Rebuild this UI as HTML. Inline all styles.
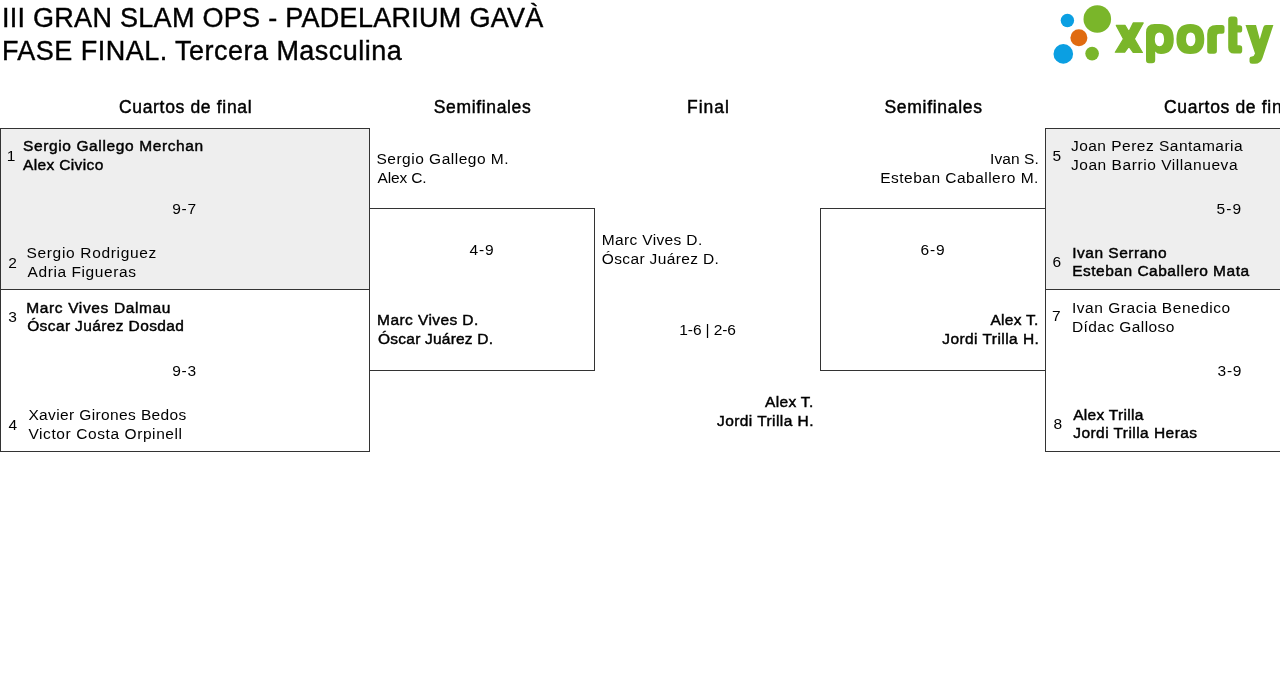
<!DOCTYPE html>
<html><head><meta charset="utf-8"><style>
html,body{margin:0;padding:0;background:#fff;width:1280px;height:697px;overflow:hidden;position:relative}
.t{position:absolute;white-space:nowrap;font-family:"Liberation Sans",sans-serif;color:#000}
#w{position:absolute;left:0;top:0;width:1280px;height:697px;will-change:transform}
</style></head><body>
<div style="position:absolute;left:0px;top:128px;width:370px;height:162px;box-sizing:border-box;background:#eeeeee;border-style:solid;border-color:#333;border-width:1px 1px 1px 1px"></div><div style="position:absolute;left:0px;top:289px;width:370px;height:163px;box-sizing:border-box;background:#fff;border-style:solid;border-color:#333;border-width:1px 1px 1px 1px"></div><div style="position:absolute;left:369px;top:208px;width:226px;height:163px;box-sizing:border-box;background:transparent;border-style:solid;border-color:#333;border-width:1px 1px 1px 1px"></div><div style="position:absolute;left:820px;top:208px;width:226px;height:163px;box-sizing:border-box;background:transparent;border-style:solid;border-color:#333;border-width:1px 1px 1px 1px"></div><div style="position:absolute;left:1045px;top:128px;width:370px;height:162px;box-sizing:border-box;background:#eeeeee;border-style:solid;border-color:#333;border-width:1px 1px 1px 1px"></div><div style="position:absolute;left:1045px;top:289px;width:370px;height:163px;box-sizing:border-box;background:#fff;border-style:solid;border-color:#333;border-width:1px 1px 1px 1px"></div>
<svg style="position:absolute;left:1040px;top:0" width="240" height="70" viewBox="0 0 240 70">
<circle cx="57.3" cy="19.0" r="13.8" fill="#7ab62a"/>
<circle cx="27.4" cy="20.5" r="6.7" fill="#0b9fe2"/>
<circle cx="38.9" cy="37.7" r="8.5" fill="#e06b10"/>
<circle cx="23.3" cy="53.9" r="9.8" fill="#0b9fe2"/>
<circle cx="52.1" cy="53.6" r="6.8" fill="#7ab62a"/>
<g fill="#7ab62a">
<!-- x -->
<path stroke="#7ab62a" stroke-width="1.2" stroke-linejoin="round" d="M76.3 25.4 H85 L88.9 31.8 L93.2 22.9 H103.2 L94.3 38.9 L102.4 52.5 H93.2 L88.9 46.3 L84.7 52.2 H75.3 L83.5 38.9 Z"/>
<!-- p -->
<path fill-rule="evenodd" d="M106 32.5 Q106 24 114.5 24 H119.5 Q133.8 24 133.8 39 Q133.8 54 121 54 Q117 54 115.2 51.5 V60 Q115.2 63.2 112 63.2 H109 Q106 63.2 106 60 Z M114.8 39.35 Q114.8 46.2 119.45 46.2 Q124.1 46.2 124.1 39.35 Q124.1 32.5 119.45 32.5 Q114.8 32.5 114.8 39.35 Z"/>
<!-- o -->
<path fill-rule="evenodd" d="M136.4 39 Q136.4 24 150.3 24 Q164.3 24 164.3 39 Q164.3 54.1 150.3 54.1 Q136.4 54.1 136.4 39 Z M146 39.35 Q146 46.2 150.7 46.2 Q155.4 46.2 155.4 39.35 Q155.4 32.5 150.7 32.5 Q146 32.5 146 39.35 Z"/>
<!-- r -->
<path d="M167.2 34 Q167.2 24.9 176.5 24.9 H182 Q184.5 24.9 184.5 27.4 V31.2 Q184.5 33.7 182 33.7 H179 Q176.9 33.7 176.9 36 V51 Q176.9 53.8 174 53.8 H170 Q167.2 53.8 167.2 51 Z"/>
<!-- t -->
<path d="M188.2 19.5 Q188.2 16.4 191.3 16.4 H194.4 Q197.5 16.4 197.5 19.5 V25.3 H199.5 Q202.2 25.3 202.2 28 V30 Q202.2 32.6 199.5 32.6 H197.5 V45.2 H199.5 Q202.2 45.2 202.2 48 V50.8 Q202.2 53.6 199.5 53.6 H194 Q188.2 53.6 188.2 47.5 Z"/>
<!-- y -->
<path d="M205.5 25 H216 L219.8 39.3 L223.4 27 Q224 25 226 25 H233.4 L222.5 58 Q220.5 63.8 215 63.8 H212 Q209.5 63.8 209.5 61.5 V58.5 Q209.5 56.5 212 56.5 Q214 56.5 215 53.5 Z"/>
</g>
</svg>
<div id="w"><div class="t" style="left:1.90px;top:4.80px;font-size:27px;line-height:27px;letter-spacing:0.288px;-webkit-text-stroke:0.4px #000;">III GRAN SLAM OPS - PADELARIUM GAVÀ</div><div class="t" style="left:1.90px;top:37.90px;font-size:27px;line-height:27px;letter-spacing:0.471px;-webkit-text-stroke:0.4px #000;">FASE FINAL. Tercera Masculina</div><div class="t" style="left:119.00px;top:98.60px;font-size:17.5px;line-height:17.5px;letter-spacing:0.667px;-webkit-text-stroke:0.45px #000;">Cuartos de final</div><div class="t" style="left:433.75px;top:98.60px;font-size:17.5px;line-height:17.5px;letter-spacing:0.650px;-webkit-text-stroke:0.45px #000;">Semifinales</div><div class="t" style="left:687.00px;top:98.60px;font-size:17.5px;line-height:17.5px;letter-spacing:1.000px;-webkit-text-stroke:0.45px #000;">Final</div><div class="t" style="left:884.40px;top:98.60px;font-size:17.5px;line-height:17.5px;letter-spacing:0.720px;-webkit-text-stroke:0.45px #000;">Semifinales</div><div class="t" style="left:1164.00px;top:98.60px;font-size:17.5px;line-height:17.5px;letter-spacing:0.667px;-webkit-text-stroke:0.45px #000;">Cuartos de final</div><div class="t" style="left:6.80px;top:147.80px;font-size:15.5px;line-height:15.5px;letter-spacing:0.000px;">1</div><div class="t" style="left:23.00px;top:137.60px;font-size:15.5px;line-height:15.5px;letter-spacing:0.619px;-webkit-text-stroke:0.45px #000;">Sergio Gallego Merchan</div><div class="t" style="left:23.00px;top:156.80px;font-size:15.5px;line-height:15.5px;letter-spacing:0.360px;-webkit-text-stroke:0.45px #000;">Alex Civico</div><div class="t" style="left:172.30px;top:200.90px;font-size:15.5px;line-height:15.5px;letter-spacing:0.700px;">9-7</div><div class="t" style="left:8.25px;top:255.00px;font-size:15.5px;line-height:15.5px;letter-spacing:0.000px;">2</div><div class="t" style="left:26.50px;top:245.00px;font-size:15.5px;line-height:15.5px;letter-spacing:0.667px;">Sergio Rodriguez</div><div class="t" style="left:27.50px;top:263.60px;font-size:15.5px;line-height:15.5px;letter-spacing:0.585px;">Adria Figueras</div><div class="t" style="left:8.20px;top:308.60px;font-size:15.5px;line-height:15.5px;letter-spacing:0.000px;">3</div><div class="t" style="left:26.20px;top:299.70px;font-size:15.5px;line-height:15.5px;letter-spacing:0.638px;-webkit-text-stroke:0.45px #000;">Marc Vives Dalmau</div><div class="t" style="left:27.20px;top:318.40px;font-size:15.5px;line-height:15.5px;letter-spacing:0.378px;-webkit-text-stroke:0.45px #000;">Óscar Juárez Dosdad</div><div class="t" style="left:172.30px;top:362.80px;font-size:15.5px;line-height:15.5px;letter-spacing:0.700px;">9-3</div><div class="t" style="left:8.60px;top:416.90px;font-size:15.5px;line-height:15.5px;letter-spacing:0.000px;">4</div><div class="t" style="left:28.40px;top:406.90px;font-size:15.5px;line-height:15.5px;letter-spacing:0.379px;">Xavier Girones Bedos</div><div class="t" style="left:28.40px;top:425.50px;font-size:15.5px;line-height:15.5px;letter-spacing:0.590px;">Victor Costa Orpinell</div><div class="t" style="left:376.50px;top:150.75px;font-size:15.5px;line-height:15.5px;letter-spacing:0.500px;">Sergio Gallego M.</div><div class="t" style="left:377.50px;top:169.75px;font-size:15.5px;line-height:15.5px;letter-spacing:-0.133px;">Alex C.</div><div class="t" style="left:469.50px;top:242.20px;font-size:15.5px;line-height:15.5px;letter-spacing:0.800px;">4-9</div><div class="t" style="left:377.10px;top:312.40px;font-size:15.5px;line-height:15.5px;letter-spacing:0.417px;-webkit-text-stroke:0.45px #000;">Marc Vives D.</div><div class="t" style="left:378.10px;top:331.40px;font-size:15.5px;line-height:15.5px;letter-spacing:0.214px;-webkit-text-stroke:0.45px #000;">Óscar Juárez D.</div><div class="t" style="left:601.75px;top:231.80px;font-size:15.5px;line-height:15.5px;letter-spacing:0.358px;">Marc Vives D.</div><div class="t" style="left:601.75px;top:250.75px;font-size:15.5px;line-height:15.5px;letter-spacing:0.364px;">Óscar Juárez D.</div><div class="t" style="left:679.30px;top:322.20px;font-size:15.5px;line-height:15.5px;letter-spacing:-0.100px;">1-6 | 2-6</div><div class="t" style="left:765.00px;top:393.80px;font-size:15.5px;line-height:15.5px;letter-spacing:0.333px;-webkit-text-stroke:0.45px #000;">Alex T.</div><div class="t" style="left:717.00px;top:412.60px;font-size:15.5px;line-height:15.5px;letter-spacing:0.429px;-webkit-text-stroke:0.45px #000;">Jordi Trilla H.</div><div class="t" style="left:990.00px;top:150.90px;font-size:15.5px;line-height:15.5px;letter-spacing:0.100px;">Ivan S.</div><div class="t" style="left:880.25px;top:169.90px;font-size:15.5px;line-height:15.5px;letter-spacing:0.479px;">Esteban Caballero M.</div><div class="t" style="left:920.50px;top:242.20px;font-size:15.5px;line-height:15.5px;letter-spacing:0.900px;">6-9</div><div class="t" style="left:990.40px;top:312.40px;font-size:15.5px;line-height:15.5px;letter-spacing:0.300px;-webkit-text-stroke:0.45px #000;">Alex T.</div><div class="t" style="left:942.20px;top:331.40px;font-size:15.5px;line-height:15.5px;letter-spacing:0.443px;-webkit-text-stroke:0.45px #000;">Jordi Trilla H.</div><div class="t" style="left:1052.50px;top:148.00px;font-size:15.5px;line-height:15.5px;letter-spacing:0.000px;">5</div><div class="t" style="left:1070.90px;top:138.10px;font-size:15.5px;line-height:15.5px;letter-spacing:0.490px;">Joan Perez Santamaria</div><div class="t" style="left:1070.90px;top:157.20px;font-size:15.5px;line-height:15.5px;letter-spacing:0.562px;">Joan Barrio Villanueva</div><div class="t" style="left:1216.60px;top:200.80px;font-size:15.5px;line-height:15.5px;letter-spacing:1.000px;">5-9</div><div class="t" style="left:1052.50px;top:254.20px;font-size:15.5px;line-height:15.5px;letter-spacing:0.000px;">6</div><div class="t" style="left:1072.20px;top:244.80px;font-size:15.5px;line-height:15.5px;letter-spacing:0.509px;-webkit-text-stroke:0.45px #000;">Ivan Serrano</div><div class="t" style="left:1072.20px;top:263.40px;font-size:15.5px;line-height:15.5px;letter-spacing:0.505px;-webkit-text-stroke:0.45px #000;">Esteban Caballero Mata</div><div class="t" style="left:1052.00px;top:308.40px;font-size:15.5px;line-height:15.5px;letter-spacing:0.000px;">7</div><div class="t" style="left:1072.00px;top:300.00px;font-size:15.5px;line-height:15.5px;letter-spacing:0.526px;">Ivan Gracia Benedico</div><div class="t" style="left:1072.00px;top:319.00px;font-size:15.5px;line-height:15.5px;letter-spacing:0.417px;">Dídac Galloso</div><div class="t" style="left:1217.60px;top:362.60px;font-size:15.5px;line-height:15.5px;letter-spacing:0.700px;">3-9</div><div class="t" style="left:1053.50px;top:416.30px;font-size:15.5px;line-height:15.5px;letter-spacing:0.000px;">8</div><div class="t" style="left:1073.20px;top:406.70px;font-size:15.5px;line-height:15.5px;letter-spacing:0.300px;-webkit-text-stroke:0.45px #000;">Alex Trilla</div><div class="t" style="left:1073.20px;top:425.00px;font-size:15.5px;line-height:15.5px;letter-spacing:0.447px;-webkit-text-stroke:0.45px #000;">Jordi Trilla Heras</div></div>
</body></html>
